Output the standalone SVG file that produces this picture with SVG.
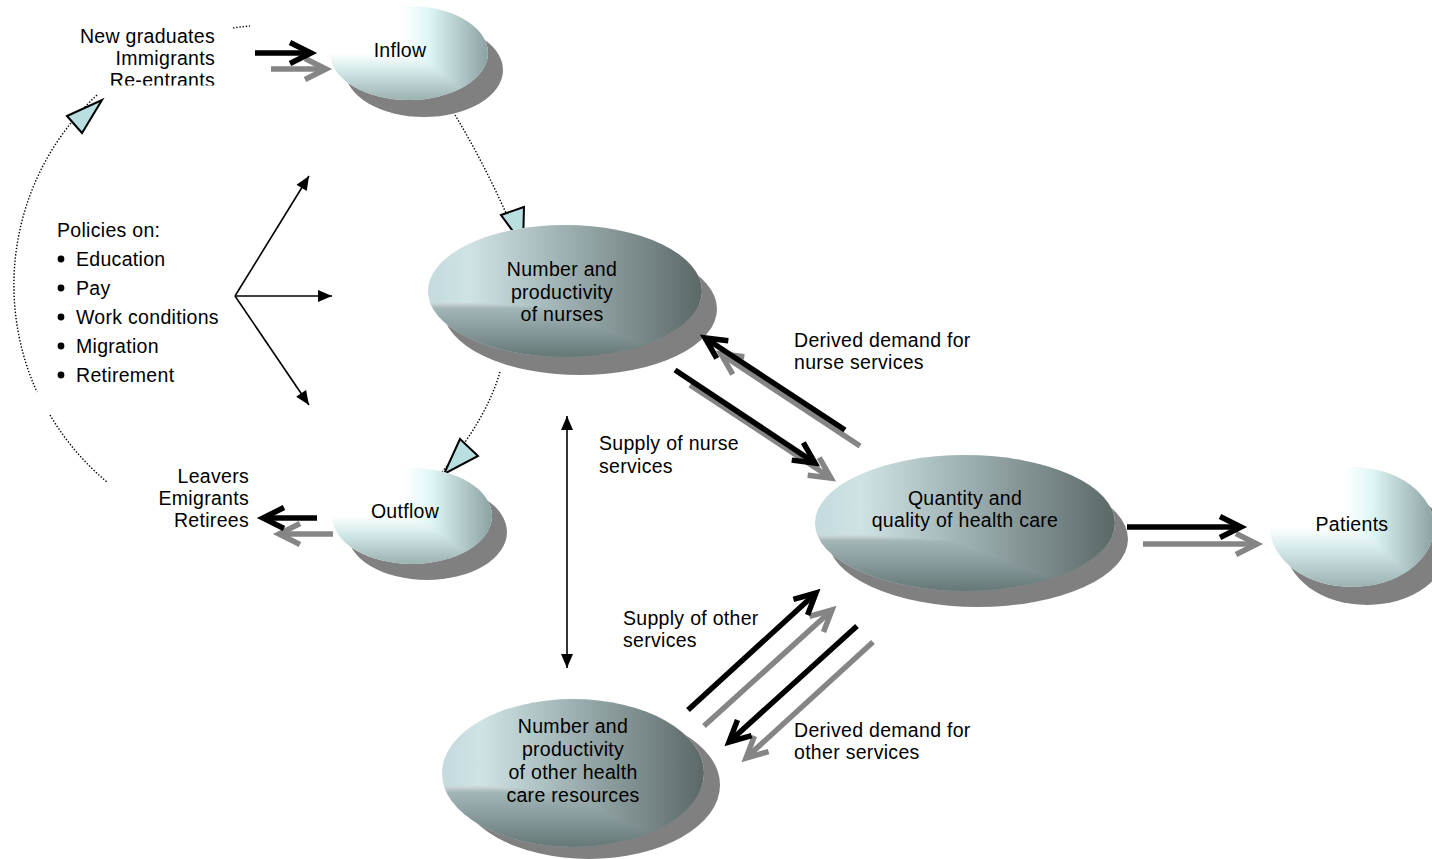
<svg xmlns="http://www.w3.org/2000/svg" width="1432" height="859" viewBox="0 0 1432 859">
<style>
  text { font-family: "Liberation Sans", Arial, sans-serif; font-size: 19.5px; letter-spacing: 0.3px; fill: #000; }
  .c { text-anchor: middle; }
  .r { text-anchor: end; }
  .shadow { fill: #808080; }
  .blend { mix-blend-mode: darken; }
  .iso { isolation: isolate; }
  .thick-b { fill: none; stroke: #000; stroke-width: 5.5; marker-end: url(#hb); }
  .thick-g { fill: none; stroke: #858585; stroke-width: 5.5; marker-end: url(#hg); }
  .thin { fill: none; stroke: #000; stroke-width: 1.6; marker-end: url(#ht); }
  .dot { fill: none; stroke: #000; stroke-width: 1.4; stroke-dasharray: 1.4 1.8; }
  .tri { fill: #b9dfe1; stroke: #000; stroke-width: 2; stroke-linejoin: miter; }
</style>
<defs>
  <linearGradient id="lh" x1="0" y1="0" x2="1" y2="0">
    <stop offset="0" stop-color="#ffffff"/>
    <stop offset="0.45" stop-color="#ffffff"/>
    <stop offset="0.62" stop-color="#dff7f7"/>
    <stop offset="1" stop-color="#8ca1a2"/>
  </linearGradient>
  <linearGradient id="lv" x1="0" y1="0" x2="0" y2="1">
    <stop offset="0" stop-color="#ffffff"/>
    <stop offset="0.5" stop-color="#ffffff"/>
    <stop offset="0.68" stop-color="#d4eaea"/>
    <stop offset="1" stop-color="#9cb1b2"/>
  </linearGradient>
  <linearGradient id="dh" x1="0" y1="0" x2="1" y2="0">
    <stop offset="0" stop-color="#c4dadc"/>
    <stop offset="0.15" stop-color="#cfe3e5"/>
    <stop offset="0.55" stop-color="#97a9aa"/>
    <stop offset="1" stop-color="#5c6868"/>
  </linearGradient>
  <linearGradient id="dv" x1="0" y1="0" x2="0" y2="1">
    <stop offset="0" stop-color="#ffffff"/>
    <stop offset="0.55" stop-color="#ffffff"/>
    <stop offset="0.63" stop-color="#a3b6b7"/>
    <stop offset="1" stop-color="#667778"/>
  </linearGradient>
  <marker id="hb" markerUnits="userSpaceOnUse" viewBox="-30 -16 40 32" markerWidth="40" markerHeight="32" refX="0" refY="0" orient="auto">
    <path d="M-21,-10.5 L0,0 L-21,10.5" fill="none" stroke="#000" stroke-width="5.5" stroke-miterlimit="10"/>
  </marker>
  <marker id="hg" markerUnits="userSpaceOnUse" viewBox="-30 -16 40 32" markerWidth="40" markerHeight="32" refX="0" refY="0" orient="auto">
    <path d="M-21,-10.5 L0,0 L-21,10.5" fill="none" stroke="#858585" stroke-width="5.5" stroke-miterlimit="10"/>
  </marker>
  <marker id="ht" markerUnits="userSpaceOnUse" viewBox="-16 -8 18 16" markerWidth="18" markerHeight="16" refX="0" refY="0" orient="auto-start-reverse">
    <path d="M-14,-6 L0,0 L-14,6 z" fill="#000"/>
  </marker>
  <clipPath id="clipIn">
    <rect x="0" y="0" width="300" height="85.5"/>
  </clipPath>
</defs>
<rect width="1432" height="859" fill="#ffffff"/>

<g id="cycle">
  <path class="dot" d="M97,95 A259,259 0 0,0 37,392"/>
  <path class="dot" d="M50,415 A259,259 0 0,0 107,482"/>
  <path class="dot" d="M233,28 A259,259 0 0,1 250,26"/>
  <path class="dot" d="M455,115 Q484,163 510,222"/>
  <path class="dot" d="M500,372 Q486,420 442,472"/>
  <polygon class="tri" points="67,116 102,100 82,133"/>
  <polygon class="tri" points="501,215 524,207 523,245"/>
  <polygon class="tri" points="460,439 478,456 444,474"/>
</g>

<g id="source-text">
  <g clip-path="url(#clipIn)">
    <text class="r" x="215" y="43">New graduates</text>
    <text class="r" x="215" y="65">Immigrants</text>
    <text class="r" x="215" y="87">Re-entrants</text>
  </g>
</g>

<g id="leavers-text">
  <text class="r" x="249" y="483">Leavers</text>
  <text class="r" x="249" y="505">Emigrants</text>
  <text class="r" x="249" y="527">Retirees</text>
</g>

<g id="policies">
  <text x="57" y="237">Policies on:</text>
  <circle cx="61" cy="259" r="3.4"/>
  <text x="76" y="266">Education</text>
  <circle cx="61" cy="288" r="3.4"/>
  <text x="76" y="295">Pay</text>
  <circle cx="61" cy="317" r="3.4"/>
  <text x="76" y="324">Work conditions</text>
  <circle cx="61" cy="346" r="3.4"/>
  <text x="76" y="353">Migration</text>
  <circle cx="61" cy="375" r="3.4"/>
  <text x="76" y="382">Retirement</text>
</g>

<g id="inflow">
  <ellipse class="shadow" cx="424" cy="70" rx="79" ry="47"/>
  <g class="iso">
    <ellipse cx="409" cy="53" rx="79" ry="47" fill="url(#lh)"/>
    <ellipse class="blend" cx="409" cy="53" rx="79" ry="47" fill="url(#lv)"/>
  </g>
  <text class="c" x="400" y="57">Inflow</text>
</g>

<g id="outflow">
  <ellipse class="shadow" cx="427" cy="532" rx="80" ry="48"/>
  <g class="iso">
    <ellipse cx="412" cy="516" rx="80" ry="48" fill="url(#lh)"/>
    <ellipse class="blend" cx="412" cy="516" rx="80" ry="48" fill="url(#lv)"/>
  </g>
  <text class="c" x="405" y="518">Outflow</text>
</g>

<g id="nurses">
  <ellipse class="shadow" cx="580" cy="309" rx="137" ry="66"/>
  <g class="iso">
    <ellipse cx="565" cy="291" rx="137" ry="66" fill="url(#dh)"/>
    <ellipse class="blend" cx="565" cy="291" rx="137" ry="66" fill="url(#dv)"/>
  </g>
  <text class="c" x="562" y="276">Number and</text>
  <text class="c" x="562" y="298.5">productivity</text>
  <text class="c" x="562" y="321">of nurses</text>
</g>

<g id="quantity">
  <ellipse class="shadow" cx="978" cy="539" rx="150" ry="68"/>
  <g class="iso">
    <ellipse cx="965" cy="523" rx="150" ry="68" fill="url(#dh)"/>
    <ellipse class="blend" cx="965" cy="523" rx="150" ry="68" fill="url(#dv)"/>
  </g>
  <text class="c" x="965" y="505">Quantity and</text>
  <text class="c" x="965" y="527">quality of health care</text>
</g>

<g id="patients">
  <ellipse class="shadow" cx="1367" cy="545" rx="82" ry="60"/>
  <g class="iso">
    <ellipse cx="1352" cy="527" rx="82" ry="60" fill="url(#lh)"/>
    <ellipse class="blend" cx="1352" cy="527" rx="82" ry="60" fill="url(#lv)"/>
  </g>
  <text class="c" x="1352" y="531">Patients</text>
</g>

<g id="other">
  <ellipse class="shadow" cx="589" cy="785" rx="131" ry="74"/>
  <g class="iso">
    <ellipse cx="573" cy="773" rx="131" ry="74" fill="url(#dh)"/>
    <ellipse class="blend" cx="573" cy="773" rx="131" ry="74" fill="url(#dv)"/>
  </g>
  <text class="c" x="573" y="733">Number and</text>
  <text class="c" x="573" y="756">productivity</text>
  <text class="c" x="573" y="779">of other health</text>
  <text class="c" x="573" y="802">care resources</text>
</g>

<g id="connectors">
  <path class="thin" d="M235,296 L309,176"/>
  <path class="thin" d="M235,296 L332,296"/>
  <path class="thin" d="M235,296 L309,405"/>
  <path class="thin" d="M567,668 L567,416" style="marker-start:url(#ht)"/>

  <path class="thick-g" d="M271,69 L326,69"/>
  <path class="thick-b" d="M255,53 L311,53"/>
  <path class="thick-g" d="M333,534 L279,534"/>
  <path class="thick-b" d="M317,518 L263,518"/>
  <path class="thick-g" d="M690,385 L831,478"/>
  <path class="thick-b" d="M675,370 L815,463"/>
  <path class="thick-g" d="M860,446 L721,354"/>
  <path class="thick-b" d="M845,430 L705,338"/>
  <path class="thick-g" d="M1143,544 L1257,544"/>
  <path class="thick-b" d="M1127,527 L1241,527"/>
  <path class="thick-g" d="M704,726 L832,610"/>
  <path class="thick-b" d="M688,710 L816,593"/>
  <path class="thick-g" d="M873,642 L746,758"/>
  <path class="thick-b" d="M857,626 L729,742"/>
</g>

<g id="labels">
  <text x="794" y="347">Derived demand for</text>
  <text x="794" y="369">nurse services</text>
  <text x="599" y="450">Supply of nurse</text>
  <text x="599" y="473">services</text>
  <text x="623" y="625">Supply of other</text>
  <text x="623" y="647">services</text>
  <text x="794" y="737">Derived demand for</text>
  <text x="794" y="759">other services</text>
</g>
</svg>
